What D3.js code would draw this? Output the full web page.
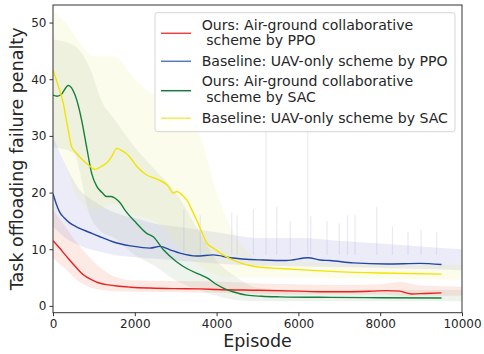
<!DOCTYPE html>
<html><head><meta charset="utf-8">
<script src="https://cdn.jsdelivr.net/npm/d3@7"></script>
<style>body{margin:0;background:#fff}svg{display:block}text{font-family:"DejaVu Sans",sans-serif;fill:#262626}</style>
</head><body><svg id="c" width="484" height="354"></svg>
<script>
// ---- data ----
const xTicks = [0, 2000, 4000, 6000, 8000, 10000];
const yTicks = [0, 10, 20, 30, 40, 50];
const seriesNames = ["Ours: Air-ground collaborative\n scheme by PPO", "Baseline: UAV-only scheme by PPO", "Ours: Air-ground collaborative\n scheme by SAC", "Baseline: UAV-only scheme by SAC"];

// smoothed curves
const redX = [0, 150, 335, 540, 740, 950, 1150, 1360, 1560, 1900, 2370, 3000, 3600, 4000, 5000, 6000, 6530, 7200, 7800, 8160, 8480, 8770, 9100, 9500];
const redY = [11.5, 10.3, 8.7, 7.0, 5.5, 4.6, 4.0, 3.7, 3.5, 3.3, 3.15, 3.05, 3.0, 2.9, 2.75, 2.6, 2.5, 2.5, 2.6, 2.7, 2.6, 2.1, 2.2, 2.3];
const blueX = [0, 80, 160, 280, 415, 560, 740, 950, 1150, 1360, 1560, 1900, 2370, 2616, 2860, 3105, 3513, 3920, 4330, 5140, 5710, 6240, 6530, 6770, 7340, 8160, 8970, 9500];
const blueY = [19.8, 18.0, 16.6, 15.5, 14.6, 14.0, 13.4, 12.8, 12.2, 11.6, 11.1, 10.6, 10.2, 10.5, 9.9, 9.3, 8.8, 9.0, 8.5, 8.1, 8.0, 8.5, 8.1, 8.0, 7.6, 7.4, 7.5, 7.3];
const greenX = [0, 100, 200, 375, 540, 700, 820, 945, 1070, 1200, 1310, 1420, 1520, 1640, 1760, 2040, 2290, 2450, 2700, 3020, 3270, 3600, 3800, 3950, 4150, 4400, 4740, 5100, 5550, 6800, 8000, 9500];
const greenY = [37.2, 37.0, 37.3, 38.9, 37.2, 32.8, 28.1, 23.4, 21.1, 20.0, 19.3, 19.3, 19.0, 18.2, 16.9, 14.6, 12.8, 12.2, 9.9, 7.8, 6.6, 5.5, 4.8, 4.0, 3.2, 2.5, 1.9, 1.7, 1.6, 1.5, 1.45, 1.4];
const yellowX = [0, 120, 250, 360, 455, 580, 720, 860, 1025, 1180, 1310, 1430, 1560, 1680, 1840, 2050, 2290, 2500, 2820, 2940, 3030, 3150, 3270, 3430, 3510, 3650, 3760, 3920, 4160, 4490, 4980, 5550, 6000, 6800, 8000, 9500];
const yellowY = [41.6, 39.0, 35.8, 31.5, 28.1, 26.9, 25.8, 24.9, 24.1, 24.6, 25.2, 26.3, 27.8, 27.4, 26.6, 24.6, 23.1, 22.5, 21.1, 19.9, 20.2, 19.6, 18.7, 16.4, 15.2, 12.8, 11.1, 10.2, 9.0, 7.8, 6.9, 6.6, 6.4, 6.1, 5.8, 5.6];

// raw-data envelopes (shaded)
const redBandX = [0, 300, 600, 900, 1200, 1500, 2000, 3000, 4000, 5000, 6000, 7000, 8000, 8500, 9000, 10000];
const redLo = [8.5, 6.5, 4.5, 3.3, 2.8, 2.6, 2.5, 2.4, 2.3, 2.1, 2.0, 2.0, 2.0, 1.8, 1.8, 1.8];
const redHi = [17, 14, 11, 8.5, 6.5, 5.2, 4.5, 4.4, 4.3, 4.0, 3.8, 3.7, 3.8, 4.2, 3.6, 3.4];
const blueBandX = [0, 300, 600, 1000, 1500, 2000, 2500, 3000, 4000, 5000, 6000, 7000, 8000, 9000, 10000];
const blueLo = [14, 12, 10.8, 9.8, 9, 8.6, 8.3, 8, 7.5, 7.1, 7, 6.8, 6.7, 6.5, 6.3];
const blueHi = [30, 25, 21, 18.5, 16.5, 15.5, 14.5, 14, 13, 12, 12, 11.5, 11, 10.5, 10];
const blueSpikeX = [3200, 3600, 4370, 4500, 4900, 5210, 5470, 5800, 6230, 6300, 6700, 7000, 7200, 7385, 7915, 8300, 8680, 9000, 9380];
const blueSpikeY = [17, 16, 16.5, 16, 17, 34, 17.5, 15, 34, 15.8, 15, 14.6, 16, 16, 17.5, 14, 13.1, 13.5, 13];
const greenBandX = [0, 500, 900, 1200, 1500, 2000, 2500, 3000, 3500, 4000, 4500, 5000, 6000, 8000, 10000];
const greenLo = [28, 27, 16, 13, 12, 9, 7, 4.5, 3, 1.8, 1.0, 0.8, 0.8, 0.8, 0.8];
const greenHi = [47, 46, 42, 36, 33, 28, 24, 20, 14, 8, 5, 3.2, 2.8, 2.8, 2.8];
const yellowBandX = [0, 300, 600, 1000, 1500, 2000, 2500, 3000, 3300, 3600, 4000, 4500, 5000, 6000, 8000, 10000];
const yellowLo = [30, 25, 19, 17, 18, 16, 15, 11, 9, 7, 5.5, 5, 5, 5, 4.8, 4.6];
const yellowHi = [52, 50, 47, 44, 44, 40, 37, 35, 34, 30, 20, 12, 8.5, 7.8, 7.4, 7.2];

// ---- drawing ----
const svg = d3.select("#c");
const L = 53, R = 462, T = 5, B = 312.7;
const x = d3.scaleLinear().domain([0, 10000]).range([L, R]);
const y = d3.scaleLinear().domain([-1.2, 53.1]).range([B, T]);

const lineCol = ["#ee2020", "#2346a6", "#14803a", "#f2e400"];
const legCol = ["#ee4040", "#5a78b8", "#1a7a40", "#f0e860"];
const bandCol = ["rgba(245,140,110,0.18)", "rgba(160,160,220,0.2)", "rgba(130,165,120,0.13)", "rgba(235,235,130,0.15)"];

const clip = svg.append("defs").append("clipPath").attr("id", "clp")
  .append("rect").attr("x", L).attr("y", T).attr("width", R - L).attr("height", B - T);
const g = svg.append("g").attr("clip-path", "url(#clp)");

const bands = [[redBandX, redLo, redHi], [blueBandX, blueLo, blueHi], [greenBandX, greenLo, greenHi], [yellowBandX, yellowLo, yellowHi]];
const area = d3.area().x(d => x(d[0])).y0(d => y(d[1])).y1(d => y(d[2])).curve(d3.curveMonotoneX);
bands.forEach((b, i) => {
  const pts = b[0].map((v, k) => [v, b[1][k], b[2][k]]);
  g.append("path").attr("d", area(pts)).attr("fill", bandCol[i]);
});
// blue raw spikes
g.selectAll("line.sp").data(blueSpikeX.map((v, k) => [v, blueSpikeY[k]])).join("line")
  .attr("x1", d => x(d[0])).attr("x2", d => x(d[0]))
  .attr("y1", y(9)).attr("y2", d => y(d[1]))
  .attr("stroke", "rgba(160,160,220,0.22)").attr("stroke-width", 1.2);

const curves = [[redX, redY], [blueX, blueY], [greenX, greenY], [yellowX, yellowY]];
const line = d3.line().x(d => x(d[0])).y(d => y(d[1])).curve(d3.curveMonotoneX);
curves.forEach((c, i) => {
  const pts = c[0].map((v, k) => [v, c[1][k]]);
  g.append("path").attr("d", line(pts)).attr("fill", "none").attr("stroke", lineCol[i]).attr("stroke-width", 1.4);
});

// axes
const xa = svg.append("g").attr("transform", `translate(0,${B})`)
  .call(d3.axisBottom(x).tickValues(xTicks).tickFormat(d3.format("d")).tickSize(3.5).tickPadding(3).tickSizeOuter(0));
const ya = svg.append("g").attr("transform", `translate(${L},0)`)
  .call(d3.axisLeft(y).tickValues(yTicks).tickSize(3.5).tickPadding(3).tickSizeOuter(0));
[xa, ya].forEach(a => {
  a.select(".domain").remove();
  a.selectAll("line").attr("stroke", "#333");
  a.selectAll("text").attr("font-size", 12).attr("font-family", "DejaVu Sans").style("fill", "#262626");
});
svg.append("rect").attr("x", L).attr("y", T).attr("width", R - L).attr("height", B - T)
  .attr("fill", "none").attr("stroke", "#333").attr("stroke-width", 1);

svg.append("text").attr("x", (L + R) / 2).attr("y", 347).attr("text-anchor", "middle")
  .attr("font-size", 17.5).text("Episode");
svg.append("text").attr("transform", `translate(23,${(T + B) / 2}) rotate(-90)`).attr("text-anchor", "middle")
  .attr("font-size", 17.5).text("Task offloading failure penalty");

// legend
const lg = svg.append("g");
lg.append("rect").attr("x", 155).attr("y", 12.7).attr("width", 300).attr("height", 119).attr("rx", 2.5)
  .attr("fill", "rgba(255,255,255,0.85)").attr("stroke", "#d6d6d6").attr("stroke-width", 1);
const lineYs = [33.3, 61.3, 90.7, 118.3];
const textYs = [[30, 45], [66.3], [86.3, 101.5], [123.3]];
seriesNames.forEach((name, i) => {
  lg.append("line").attr("x1", 161).attr("x2", 191).attr("y1", lineYs[i]).attr("y2", lineYs[i])
    .attr("stroke", legCol[i]).attr("stroke-width", 1.5);
  name.split("\n").forEach((part, k) => {
    lg.append("text").attr("x", 201.7).attr("y", textYs[i][k]).attr("font-size", 14.1)
      .attr("xml:space", "preserve").style("white-space", "pre").text(part);
  });
});
</script></body></html>
